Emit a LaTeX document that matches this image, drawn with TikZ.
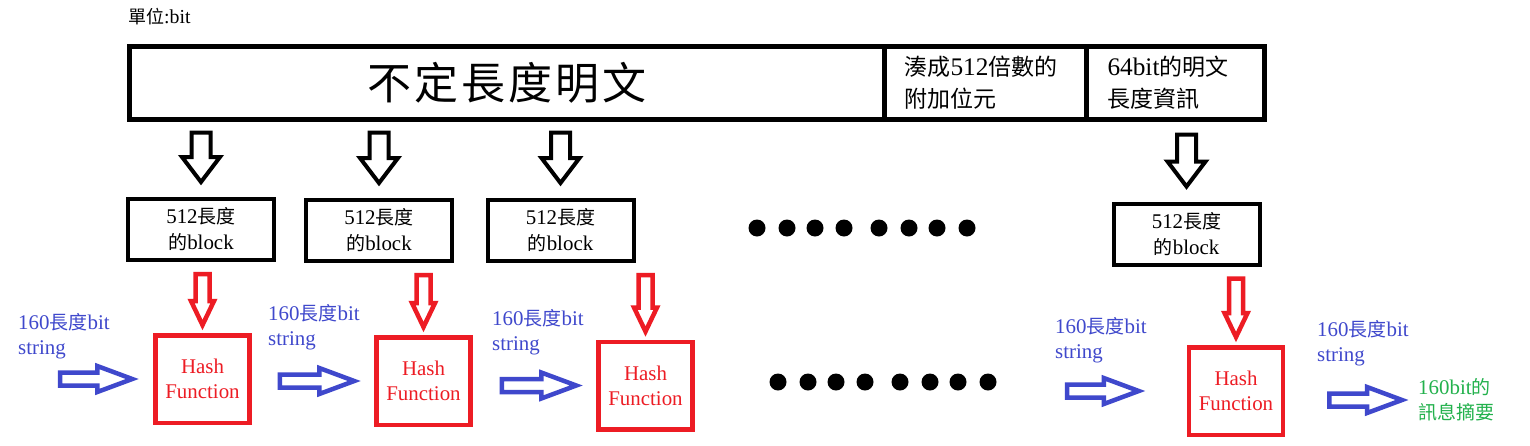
\documentclass[tikz,border=0pt]{standalone}
\usepackage{fontspec}
\setmainfont{Liberation Serif}[Scale=1.1]
\newfontfamily\cjk{Noto Sans CJK TC}
\newcommand{\zh}[1]{{\cjk #1}}
\usetikzlibrary{calc, positioning}
\definecolor{paintred}{RGB}{237, 28, 36}
\definecolor{paintblue}{RGB}{63, 72, 204}
\definecolor{paintgreen}{RGB}{34, 177, 76}

\begin{document}
\begin{tikzpicture}[x=1pt, y=-1pt,
  arr shaft/.store in=\arrshaft, arr head/.store in=\arrhead, arr len/.store in=\arrlen,
  gap a/.store in=\gapa, gap b/.store in=\gapb, gap a=0pt, gap b=0pt,
  vflow/.style={line join=miter, to path={let \p1=(\tikztostart), \p2=(\tikztotarget) in
    (\x2-\arrshaft,\y1-\gapa) -- (\x2-\arrshaft,\y2+\gapb+\arrlen) -- (\x2-\arrhead,\y2+\gapb+\arrlen)
    -- (\x2,\y2+\gapb) -- (\x2+\arrhead,\y2+\gapb+\arrlen) -- (\x2+\arrshaft,\y2+\gapb+\arrlen)
    -- (\x2+\arrshaft,\y1-\gapa) -- cycle}},
  hflow/.style={line join=miter, to path={let \p1=(\tikztostart), \p2=(\tikztotarget) in
    (\x1+\gapa,\y2+\arrshaft) -- (\x2-\gapb-\arrlen,\y2+\arrshaft) -- (\x2-\gapb-\arrlen,\y2+\arrhead)
    -- (\x2-\gapb,\y2) -- (\x2-\gapb-\arrlen,\y2-\arrhead) -- (\x2-\gapb-\arrlen,\y2-\arrshaft)
    -- (\x1+\gapa,\y2-\arrshaft) -- cycle}},
  blackarr/.style={vflow, draw=black, line width=4pt, arr shaft=9.5pt, arr head=19pt,
                   arr len=25pt, gap a=13pt, gap b=15pt},
  redarr/.style={vflow, draw=paintred, line width=4.5pt, arr shaft=7pt, arr head=11.5pt,
                 arr len=24pt, gap a=12pt, gap b=8pt},
  bluearr/.style={hflow, draw=paintblue, line width=4.5pt, arr shaft=6.5pt, arr head=13pt,
                  arr len=35pt},
  topbox/.style={draw, line width=5pt, outer sep=0pt, minimum height=73pt, inner sep=0pt},
  blkbox/.style={draw, line width=4pt, minimum width=146pt, minimum height=61pt, align=center,
                 font=\fontsize{19}{26}\selectfont},
  hashbox/.style={draw=paintred, text=paintred, line width=4.5pt, minimum width=94pt,
                  minimum height=87.5pt, align=center, font=\fontsize{19}{25}\selectfont},
  lbl/.style={text=paintblue, align=left, anchor=west, inner sep=0pt,
              font=\fontsize{19}{25}\selectfont},
]
\fill[white] (0,0) rectangle (1530,445);
\useasboundingbox (0,0) rectangle (1530,445);

% Unit
\node[anchor=west, inner sep=0pt, font=\fontsize{18}{20}\selectfont] (unit) at (128,17) {\zh{單位}:bit};

% Message with padding and length
\node[topbox, minimum width=755pt, font=\cjk\fontsize{44}{50}\selectfont] (plain) at (507,83)
{不\hspace{3pt}定\hspace{3pt}長\hspace{3pt}度\hspace{3pt}明\hspace{3pt}文};
\node[topbox, minimum width=202pt, text width=162pt, inner xsep=20pt, align=left,
      font=\fontsize{23}{32}\selectfont, right=0pt of plain] (pad)
{\zh{湊成}512\zh{倍數的}\\\zh{附加位元}};
\node[topbox, minimum width=178pt, text width=136pt, inner xsep=21pt, align=left,
      font=\fontsize{23}{32}\selectfont, right=0pt of pad] (len)
{64bit\zh{的明文}\\\zh{長度資訊}};

% Blocks
\node[blkbox] (blk1) at (201,229.5) {512\zh{長度}\\\zh{的}block};
\node[blkbox] (blk2) at (379,230.5) {512\zh{長度}\\\zh{的}block};
\node[blkbox] (blk3) at (560.5,230.5) {512\zh{長度}\\\zh{的}block};
\node[blkbox] (blk4) at (1186.5,234) {512\zh{長度}\\\zh{的}block};

\draw[blackarr] (plain.south) to (blk1.north);
\draw[blackarr] (plain.south) to (blk2.north);
\draw[blackarr] (plain.south) to (blk3.north);
\draw[blackarr, gap a=15pt] (len.south) to (blk4.north);

% Hash functions
\node[hashbox] (hash1) at (202.5,379) {Hash\\Function};
\node[hashbox] (hash2) at (423.5,381) {Hash\\Function};
\node[hashbox] (hash3) at (645.5,385.5) {Hash\\Function};
\node[hashbox] (hash4) at (1236,391) {Hash\\Function};

\draw[redarr] (blk1.south) to (hash1.north);
\draw[redarr] (blk2.south) to (hash2.north);
\draw[redarr] (blk3.south) to (hash3.north);
\draw[redarr] (blk4.south) to (hash4.north);

% Chaining values
\node[lbl] (s1) at (18,336) {160\zh{長度}bit\\string};
\node[lbl] (s2) at (268,327.5) {160\zh{長度}bit\\string};
\node[lbl] (s3) at (492,332.5) {160\zh{長度}bit\\string};
\node[lbl] (s4) at (1055,340) {160\zh{長度}bit\\string};
\node[lbl] (s5) at (1317,343.5) {160\zh{長度}bit\\string};
\node[lbl, text=paintgreen] (out) at (1418,400) {160bit\zh{的}\\\zh{訊息摘要}};

\coordinate (in1) at (60,380);
\coordinate (in4) at (1067,394);
\draw[bluearr, gap b=21pt] (in1) to (hash1.west);
\draw[bluearr, gap a=28pt, gap b=20pt] (hash1.east) to (hash2.west);
\draw[bluearr, gap a=29pt, gap b=20pt] (hash2.east) to (hash3.west);
\draw[bluearr, gap b=48pt] (in4) to (hash4.west);
\draw[bluearr, gap a=44pt, gap b=16pt] (hash4.east) to (out.west);

% Ellipsis dots
\foreach \dx in {757,787,815,844,879,909,937,967} {
  \fill (\dx,228) circle[radius=8.5pt];
  \fill (\dx+21,382) circle[radius=8.5pt];
}
\end{tikzpicture}
\end{document}
